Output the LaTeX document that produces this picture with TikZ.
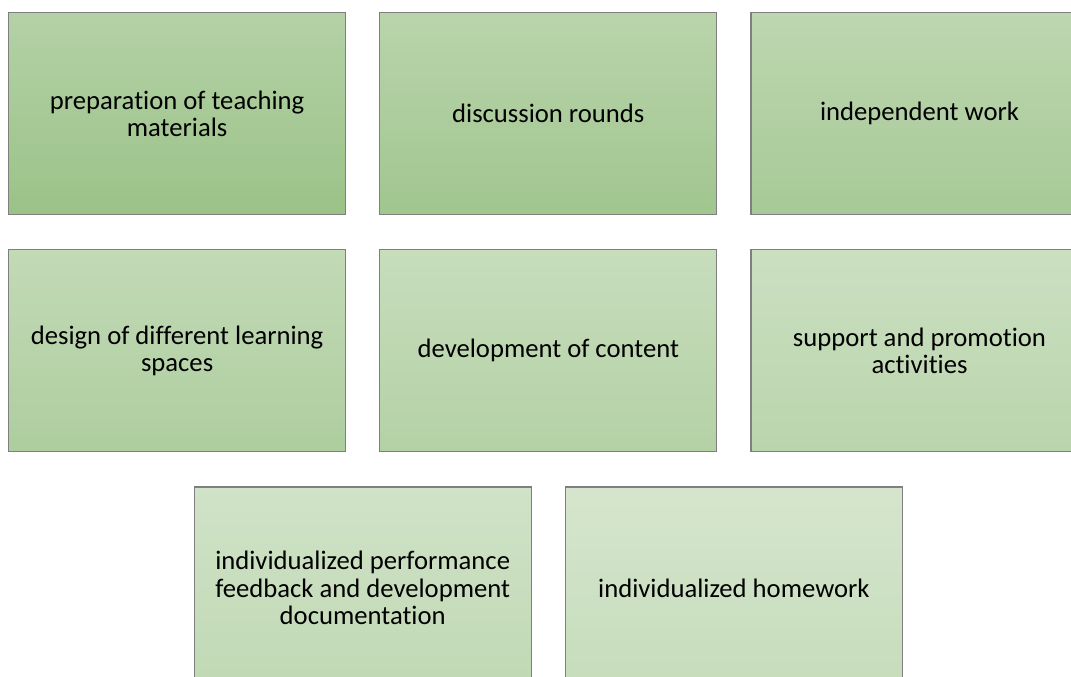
\documentclass[tikz,border=0pt]{standalone}
\usepackage{fontspec}
\setmainfont{Carlito}[Ligatures=NoCommon]
\usepackage{tikz}
\usetikzlibrary{positioning,calc}
\definecolor{leaf}{RGB}{155,194,136}
\definecolor{rim}{RGB}{127,127,127}
\hyphenpenalty=10000
\exhyphenpenalty=10000
\begin{document}
\begin{tikzpicture}[
    x=0.75pt, y=-0.75pt,
    font=\fontsize{20}{20.5}\selectfont,
    node distance=25.5pt and 24.75pt,
    box/.style 2 args={rectangle, draw=rim, line width=0.9pt,
      top color=leaf!#1!white, bottom color=leaf!#2!white,
      minimum width=252.75pt, minimum height=151.5pt,
      text width=235pt, align=flush center, inner sep=0pt}
  ]
    \clip (0,0) rectangle (1071,677);
    \fill[white] (0,0) rectangle (1071,677);

    \node[box={75}{100}, anchor=north west] (prep) at (8,12)
      {preparation of teaching materials};
    \node[box={70}{94}, right=of prep] (disc) {discussion rounds};
    \node[box={66}{88}, right=of disc] (indep) {independent work};

    \node[box={61}{81}, below=of prep] (design)
      {design of different learning spaces};
    \node[box={56}{75}, right=of design] (content) {development of content};
    \node[box={52}{69}, right=of content] (support)
      {support and promotion activities};

    \coordinate (mid) at ($(design.south)!.5!(content.south)$);
    \node[box={47}{63}, below=of mid] (feedback)
      {individualized performance feedback and development documentation};
    \node[box={42}{57}, right=of feedback] (homework)
      {individualized homework};
\end{tikzpicture}
\end{document}
